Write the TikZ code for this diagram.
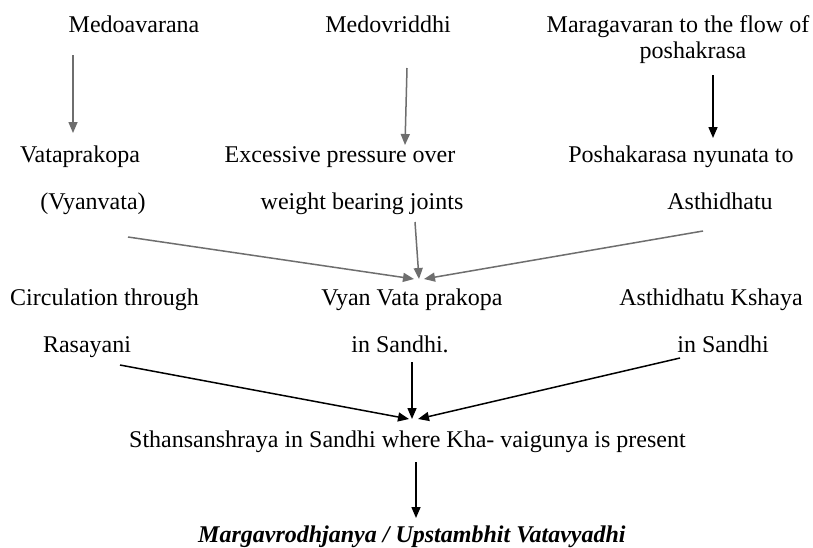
\documentclass[tikz,border=0pt]{standalone}
\usepackage{fontspec}
\setmainfont{Liberation Serif}
\usetikzlibrary{arrows.meta}
\definecolor{arrgray}{HTML}{6E6E6E}
\tikzset{
  lbl/.style={anchor=base, inner sep=0pt, font=\fontsize{24}{24}\selectfont},
  fin/.style={anchor=base, inner sep=0pt, font=\fontsize{24}{24}\selectfont\bfseries\itshape},
  garr/.style={draw=arrgray, line width=1.5pt, -{Triangle[length=11pt,width=9pt]}, color=arrgray},
  barr/.style={draw=black, line width=1.5pt, -{Triangle[length=11pt,width=9pt]}},
}
\begin{document}
\begin{tikzpicture}[x=1pt, y=-1pt]
\useasboundingbox[fill=white] (0,0) rectangle (813,547);
% row 1
\node[lbl] (medo) at (134,32) {Medoavarana};
\node[lbl] (medov) at (388,32) {Medovriddhi};
\node[lbl] (marA) at (678,32) {Maragavaran to the flow of};
\node[lbl] (marB) at (693,58) {poshakrasa};
% row 2
\node[lbl] (vataA) at (80,162) {Vataprakopa};
\node[lbl] (vataB) at (93,209) {(Vyanvata)};
\node[lbl] (excA) at (340,162) {Excessive pressure over};
\node[lbl] (excB) at (362,209) {weight bearing joints};
\node[lbl] (poshA) at (681,162) {Poshakarasa nyunata to};
\node[lbl] (poshB) at (720,209) {Asthidhatu};
% row 3
\node[lbl] (circA) at (104.5,305) {Circulation through};
\node[lbl] (circB) at (87,352) {Rasayani};
\node[lbl] (vyanA) at (412,305) {Vyan Vata prakopa};
\node[lbl] (vyanB) at (400,352) {in Sandhi.};
\node[lbl] (asthA) at (711,305) {Asthidhatu Kshaya};
\node[lbl] (asthB) at (723,352) {in Sandhi};
% row 4
\node[lbl, anchor=base west] (sthan) at (129,447) {Sthansanshraya in Sandhi where Kha- vaigunya is present};
\node[fin, anchor=base west] (final) at (198,542) {Margavrodhjanya / Upstambhit Vatavyadhi};
% arrow end points
\coordinate (a1s) at (73,55);   \coordinate (a1e) at (73,133);
\coordinate (a2s) at (407,68);  \coordinate (a2e) at (405,145);
\coordinate (a3s) at (713,75);  \coordinate (a3e) at (713,138);
\coordinate (g1s) at (128,237); \coordinate (g1e) at (414,279);
\coordinate (g2s) at (415,222); \coordinate (g2e) at (419,279);
\coordinate (g3s) at (703,231); \coordinate (g3e) at (424,279);
\coordinate (b1s) at (120,365); \coordinate (b1e) at (409,419);
\coordinate (b2s) at (412,362); \coordinate (b2e) at (412,419);
\coordinate (b3s) at (680,358); \coordinate (b3e) at (418,419);
\coordinate (c1s) at (416,462); \coordinate (c1e) at (416,518);
% connectors
\draw[garr] (a1s) -- (a1e);
\draw[garr] (a2s) -- (a2e);
\draw[barr] (a3s) -- (a3e);
\draw[garr] (g1s) -- (g1e);
\draw[garr] (g2s) -- (g2e);
\draw[garr] (g3s) -- (g3e);
\draw[barr] (b1s) -- (b1e);
\draw[barr] (b2s) -- (b2e);
\draw[barr] (b3s) -- (b3e);
\draw[barr] (c1s) -- (c1e);
\end{tikzpicture}
\end{document}
